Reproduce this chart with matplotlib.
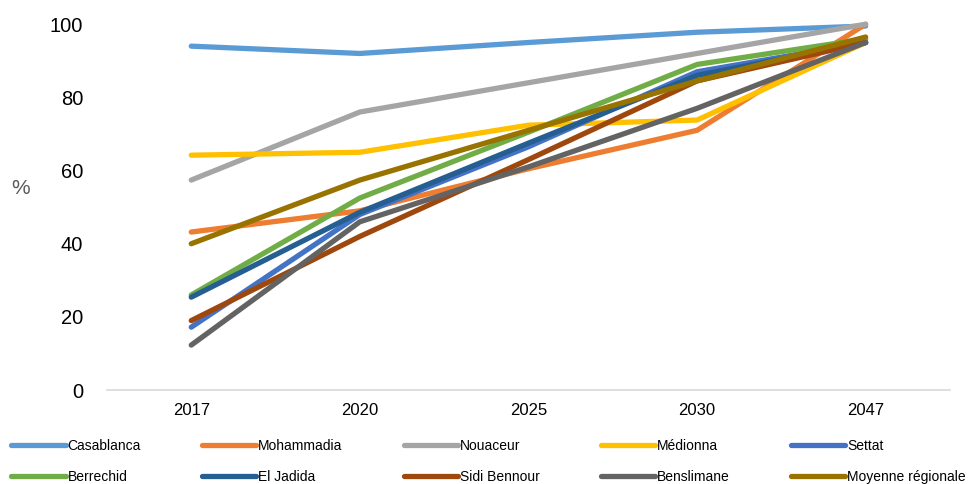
import numpy as np
import matplotlib.pyplot as plt

years = ["2017", "2020", "2025", "2030", "2047"]

casablanca = [94, 92, 95, 97.8, 99.5]
mohammadia = [43.2, 49, 60.5, 71, 100]
nouaceur = [57.4, 76, 84, 92, 100]
medionna = [64.2, 65, 72.4, 73.8, 95]
settat = [17.2, 48, 66.5, 87, 95]
berrechid = [26, 52.5, 70.5, 89, 96]
el_jadida = [25.4, 48.6, 67.5, 86, 95]
sidi_bennour = [19, 42, 63, 84.5, 95]
benslimane = [12.3, 46, 61, 77, 95]
moyenne = [40, 57.4, 71, 84.5, 96.5]

names = ["Casablanca", "Mohammadia", "Nouaceur", "Médionna", "Settat",
         "Berrechid", "El Jadida", "Sidi Bennour", "Benslimane", "Moyenne régionale"]
series = [casablanca, mohammadia, nouaceur, medionna, settat,
          berrechid, el_jadida, sidi_bennour, benslimane, moyenne]
colors = ["#5B9BD5", "#ED7D31", "#A5A5A5", "#FFC000", "#4472C4",
          "#70AD47", "#255E91", "#9E480E", "#636363", "#997300"]

plt.rcParams['font.family'] = ['Liberation Sans', 'DejaVu Sans']

fig = plt.figure(figsize=(9.75, 4.84), dpi=100)
ax = fig.add_axes([0.1097, 0.194, 0.8646, 0.756])

x = np.arange(len(years))
handles = []
for vals, name, c in zip(series, names, colors):
    h, = ax.plot(x, vals, color=c, lw=3.8, label=name, clip_on=False,
                 solid_capstyle='round', solid_joinstyle='round')
    handles.append(h)

ax.set_xlim(-0.5, len(years) - 0.5)
ax.set_ylim(0, 100)
ax.set_xticks(x)
ax.set_xticklabels(years, fontsize=12)
ax.set_yticks(np.arange(0, 101, 20))
ax.tick_params(axis='y', labelsize=14.5, length=0, pad=17)
ax.tick_params(axis='x', length=0, pad=9)
for s in ['top', 'right', 'left']:
    ax.spines[s].set_visible(False)
ax.spines['bottom'].set_color('#D9D9D9')
ax.spines['bottom'].set_linewidth(1.2)

fig.text(0.021, 0.610, "%", fontsize=15, color='#595959',
         va='center', ha='center')

# column-major ordering so rows read left to right
order = [0, 5, 1, 6, 2, 7, 3, 8, 4, 9]
fig.legend([handles[i] for i in order], [names[i] for i in order],
           ncol=5, frameon=False, fontsize=10,
           bbox_to_anchor=(0.006, -0.035, 0.99, 0.14), mode='expand',
           handlelength=3.9, handletextpad=0.15, labelspacing=1.25,
           borderaxespad=0)

fig.savefig("out.png", dpi=100)
